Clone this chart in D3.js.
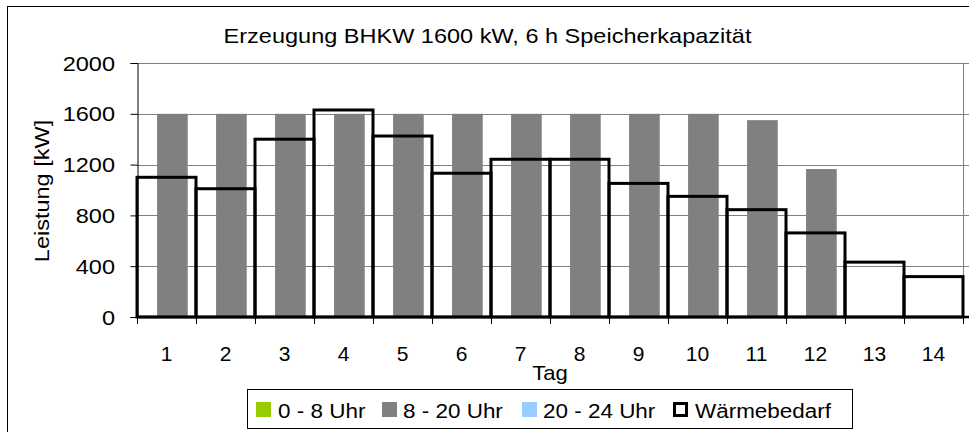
<!DOCTYPE html>
<html>
<head>
<meta charset="utf-8">
<script src="https://cdn.jsdelivr.net/npm/d3@7"></script>
<style>
  html, body { margin: 0; padding: 0; background: #fff; }
  svg { display: block; }
  text { font-family: "Liberation Sans", Arial, sans-serif; fill: #000; }
</style>
</head>
<body>
<svg id="chart" width="969" height="432"></svg>
<script>
// Tage und Leistungswerte [kW]
const days = ["1","2","3","4","5","6","7","8","9","10","11","12","13","14"];
const yTicks = [0, 400, 800, 1200, 1600, 2000];
const gen0to8 = [0,0,0,0,0,0,0,0,0,0,0,0,0,0];
const gen8to20 = [1600,1600,1600,1600,1600,1600,1600,1600,1600,1600,1550,1165,0,0];
const gen20to24 = [0,0,0,0,0,0,0,0,0,0,0,0,0,0];
const heatDemand = [1100,1010,1400,1630,1425,1132,1242,1242,1052,950,845,662,432,318];

const seriesNames = ["0 - 8 Uhr", "8 - 20 Uhr", "20 - 24 Uhr"];
const seriesColors = ["#99CC00", "#808080", "#99CCFF"];
const demandName = "Wärmebedarf";
const titleText = "Erzeugung BHKW 1600 kW, 6 h Speicherkapazität";

const svg = d3.select("#chart");
const plot = { left: 137, right: 963, top: 63, bottom: 317 };

const x = d3.scaleBand().domain(days).range([plot.left, plot.right]).padding(0);
const y = d3.scaleLinear().domain([0, 2000]).range([plot.bottom, plot.top]);
const bw = x.bandwidth();

// Diagrammrahmen
svg.append("rect")
  .attr("x", 7.5).attr("y", 6.5).attr("width", 980).attr("height", 440)
  .attr("fill", "#fff").attr("stroke", "#000").attr("stroke-width", 1);

// Titel
svg.append("text")
  .attr("transform", "translate(487.5,43) scale(1.12,1)")
  .attr("text-anchor", "middle").style("font-size", "21px")
  .text(titleText);

// Gitterlinien
svg.append("g").selectAll("line").data(yTicks.filter(t => t > 0)).join("line")
  .attr("x1", plot.left).attr("x2", plot.right + 6)
  .attr("y1", d => Math.round(y(d)) + 0.5).attr("y2", d => Math.round(y(d)) + 0.5)
  .attr("stroke", "#808080").attr("stroke-width", 1);

// rechte Begrenzung der Zeichenfläche
svg.append("line")
  .attr("x1", plot.right + 0.5).attr("x2", plot.right + 0.5)
  .attr("y1", plot.top).attr("y2", plot.bottom + 7)
  .attr("stroke", "#808080").attr("stroke-width", 1);

// gestapelte Erzeugung
const table = days.map((d, i) => ({ day: d, s0: gen0to8[i], s1: gen8to20[i], s2: gen20to24[i] }));
const stack = d3.stack().keys(["s0", "s1", "s2"])(table);
svg.append("g").selectAll("g").data(stack).join("g")
  .attr("fill", (d, i) => seriesColors[i])
  .selectAll("rect").data(d => d).join("rect")
  .attr("x", d => x(d.data.day) + bw * 0.34)
  .attr("width", bw * 0.52)
  .attr("y", d => y(d[1]))
  .attr("height", d => y(d[0]) - y(d[1]));

// Wärmebedarf als Tagesblöcke
svg.append("g").selectAll("rect").data(heatDemand).join("rect")
  .attr("x", (d, i) => x(days[i]))
  .attr("width", bw)
  .attr("y", d => y(d))
  .attr("height", d => y(0) - y(d))
  .attr("fill", "none").attr("stroke", "#000").attr("stroke-width", 3);

// y-Achse
const yAxis = svg.append("g").attr("transform", `translate(${plot.left + 0.5},0)`)
  .call(d3.axisLeft(y).tickValues(yTicks).tickSize(7).tickPadding(15).tickFormat(d3.format("d")));
yAxis.select(".domain").attr("stroke", "#000");
yAxis.selectAll(".tick line").attr("stroke", "#000");
yAxis.selectAll(".tick text").remove();
svg.append("g").selectAll("text").data(yTicks).join("text")
  .attr("transform", d => `translate(115,${y(d) + 7.5}) scale(1.12,1)`)
  .attr("text-anchor", "end").style("font-size", "21px")
  .text(d => d);

// x-Achse
const xAxis = svg.append("g").attr("transform", `translate(0,${plot.bottom})`)
  .call(d3.axisBottom(x).tickSize(0).tickPadding(0));
xAxis.select(".domain").remove();
xAxis.selectAll(".tick text").remove();
svg.append("line")
  .attr("x1", plot.left).attr("x2", plot.right + 6)
  .attr("y1", plot.bottom).attr("y2", plot.bottom)
  .attr("stroke", "#000").attr("stroke-width", 2.5);
const bounds = days.map(d => x(d)).concat([plot.right]);
svg.append("g").selectAll("line").data(bounds).join("line")
  .attr("x1", d => Math.round(d) + 0.5).attr("x2", d => Math.round(d) + 0.5)
  .attr("y1", plot.bottom).attr("y2", plot.bottom + 7)
  .attr("stroke", "#000").attr("stroke-width", 1);
svg.append("g").selectAll("text").data(days).join("text")
  .attr("x", d => x(d) + bw / 2).attr("y", 361)
  .attr("text-anchor", "middle").style("font-size", "21px")
  .text(d => d);

// Achsentitel
svg.append("text")
  .attr("transform", "translate(550,380) scale(1.05,1)")
  .attr("text-anchor", "middle").style("font-size", "21px")
  .text("Tag");
svg.append("text")
  .attr("transform", "translate(49,191) rotate(-90) scale(1.12,1)")
  .attr("text-anchor", "middle").style("font-size", "21px")
  .text("Leistung [kW]");

// Legende
const legend = svg.append("g");
legend.append("rect")
  .attr("x", 247.5).attr("y", 389.5).attr("width", 605).attr("height", 39)
  .attr("fill", "#fff").attr("stroke", "#000").attr("stroke-width", 1);
const legendItems = [
  { name: seriesNames[0], color: seriesColors[0], sx: 256, tx: 278 },
  { name: seriesNames[1], color: seriesColors[1], sx: 382, tx: 403 },
  { name: seriesNames[2], color: seriesColors[2], sx: 522, tx: 543 },
  { name: demandName, color: null, sx: 673, tx: 695 }
];
legendItems.forEach(it => {
  if (it.color) {
    legend.append("rect").attr("x", it.sx).attr("y", 402).attr("width", 15).attr("height", 15)
      .attr("fill", it.color);
  } else {
    legend.append("rect").attr("x", it.sx + 1.5).attr("y", 403.5).attr("width", 12).attr("height", 12)
      .attr("fill", "#fff").attr("stroke", "#000").attr("stroke-width", 3);
  }
  legend.append("text")
    .attr("transform", `translate(${it.tx},417.5) scale(1.07,1)`)
    .style("font-size", "21px")
    .text(it.name);
});
</script>
</body>
</html>
